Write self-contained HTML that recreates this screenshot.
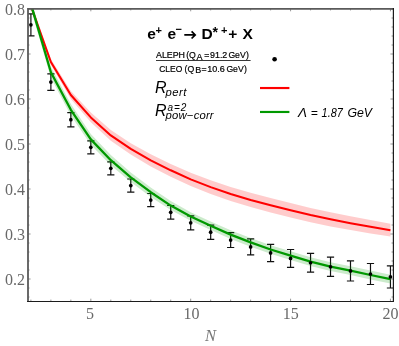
<!DOCTYPE html>
<html><head><meta charset="utf-8"><title>plot</title>
<style>html,body{margin:0;padding:0;background:#fff}svg{display:block;will-change:transform}</style>
</head><body>
<svg width="399" height="346" viewBox="0 0 399 346">
<rect width="399" height="346" fill="#fff"/>
<clipPath id="c"><rect x="28" y="9" width="365" height="292"/></clipPath>
<g clip-path="url(#c)"><path d="M30.90 13.80V35.80M27.30 13.80H34.50M27.30 35.80H34.50M50.88 73.90V90.30M47.27 73.90H54.48M47.27 90.30H54.48M70.85 112.60V126.80M67.25 112.60H74.45M67.25 126.80H74.45M90.83 140.80V153.80M87.23 140.80H94.42M87.23 153.80H94.42M110.80 161.80V174.80M107.20 161.80H114.40M107.20 174.80H114.40M130.78 179.00V192.20M127.18 179.00H134.38M127.18 192.20H134.38M150.75 193.50V206.70M147.15 193.50H154.35M147.15 206.70H154.35M170.73 205.50V219.10M167.13 205.50H174.33M167.13 219.10H174.33M190.70 215.80V229.80M187.10 215.80H194.30M187.10 229.80H194.30M210.68 225.05V239.35M207.08 225.05H214.28M207.08 239.35H214.28M230.65 232.70V247.50M227.05 232.70H234.25M227.05 247.50H234.25M250.63 238.90V254.90M247.03 238.90H254.23M247.03 254.90H254.23M270.60 244.30V261.60M267.00 244.30H274.20M267.00 261.60H274.20M290.57 249.50V267.30M286.97 249.50H294.18M286.97 267.30H294.18M310.55 253.40V272.10M306.95 253.40H314.15M306.95 272.10H314.15M330.52 257.20V276.40M326.92 257.20H334.12M326.92 276.40H334.12M350.50 260.80V281.00M346.90 260.80H354.10M346.90 281.00H354.10M370.48 263.50V284.50M366.88 263.50H374.08M366.88 284.50H374.08M390.45 265.80V288.00M386.85 265.80H394.05M386.85 288.00H394.05" stroke="#111" stroke-width="1.2" fill="none"/>
<polygon points="30.90,4.30 50.88,59.00 70.85,91.00 90.83,112.60 110.80,130.10 130.78,143.20 150.75,154.20 170.73,163.90 190.70,172.80 210.68,180.30 230.65,187.00 250.63,192.80 270.60,198.10 290.57,203.10 310.55,207.90 330.52,212.20 350.50,216.30 370.48,220.10 390.45,223.80 390.45,236.60 370.48,233.50 350.50,230.10 330.52,226.40 310.55,222.30 290.57,217.50 270.60,212.50 250.63,207.00 230.65,201.00 210.68,193.90 190.70,186.00 170.73,176.70 150.75,166.40 130.78,154.60 110.80,140.70 90.83,122.20 70.85,99.00 50.88,65.00 30.90,7.30" fill="#ff0000" fill-opacity="0.2"/>
<polyline points="30.90,5.80 50.88,62.00 70.85,95.00 90.83,117.40 110.80,135.40 130.78,148.90 150.75,160.30 170.73,170.30 190.70,179.40 210.68,187.10 230.65,194.00 250.63,199.90 270.60,205.30 290.57,210.30 310.55,215.10 330.52,219.30 350.50,223.20 370.48,226.80 390.45,230.20" fill="none" stroke="#ff0000" stroke-width="2.05" stroke-linejoin="round"/>
<polygon points="30.90,-1.00 50.88,66.70 70.85,104.00 90.83,134.10 110.80,155.10 130.78,172.50 150.75,187.50 170.73,201.10 190.70,212.20 210.68,221.50 230.65,230.30 250.63,238.00 270.60,245.15 290.57,251.25 310.55,257.25 330.52,262.30 350.50,266.25 370.48,270.60 390.45,274.80 390.45,283.60 370.48,279.40 350.50,274.95 330.52,270.90 310.55,265.95 290.57,259.95 270.60,253.85 250.63,246.80 230.65,238.90 210.68,230.10 190.70,220.80 170.73,210.10 150.75,196.90 130.78,182.10 110.80,165.30 90.83,144.70 70.85,115.60 50.88,77.70 30.90,9.00" fill="#009900" fill-opacity="0.2"/>
<polyline points="30.90,4.00 50.88,72.20 70.85,109.80 90.83,139.40 110.80,160.20 130.78,177.30 150.75,192.20 170.73,205.60 190.70,216.50 210.68,225.80 230.65,234.60 250.63,242.40 270.60,249.50 290.57,255.60 310.55,261.60 330.52,266.60 350.50,270.60 370.48,275.00 390.45,279.20" fill="none" stroke="#009900" stroke-width="2.3" stroke-linejoin="round"/>
<circle cx="30.90" cy="24.80" r="1.85" fill="#000"/>
<circle cx="50.88" cy="82.10" r="1.85" fill="#000"/>
<circle cx="70.85" cy="119.70" r="1.85" fill="#000"/>
<circle cx="90.83" cy="147.30" r="1.85" fill="#000"/>
<circle cx="110.80" cy="168.30" r="1.85" fill="#000"/>
<circle cx="130.78" cy="185.60" r="1.85" fill="#000"/>
<circle cx="150.75" cy="200.10" r="1.85" fill="#000"/>
<circle cx="170.73" cy="212.30" r="1.85" fill="#000"/>
<circle cx="190.70" cy="222.80" r="1.85" fill="#000"/>
<circle cx="210.68" cy="232.20" r="1.85" fill="#000"/>
<circle cx="230.65" cy="240.10" r="1.85" fill="#000"/>
<circle cx="250.63" cy="246.90" r="1.85" fill="#000"/>
<circle cx="270.60" cy="252.95" r="1.85" fill="#000"/>
<circle cx="290.57" cy="258.40" r="1.85" fill="#000"/>
<circle cx="310.55" cy="262.75" r="1.85" fill="#000"/>
<circle cx="330.52" cy="266.80" r="1.85" fill="#000"/>
<circle cx="350.50" cy="270.90" r="1.85" fill="#000"/>
<circle cx="370.48" cy="274.00" r="1.85" fill="#000"/>
<circle cx="390.45" cy="276.90" r="1.85" fill="#000"/></g>
<path d="M30.90 301.4v-1.8M30.90 9v1.4M50.88 301.4v-1.8M50.88 9v1.4M70.85 301.4v-1.8M70.85 9v1.4M90.83 301.4v-2.7M90.83 9v2.3000000000000003M110.80 301.4v-1.8M110.80 9v1.4M130.78 301.4v-1.8M130.78 9v1.4M150.75 301.4v-1.8M150.75 9v1.4M170.73 301.4v-1.8M170.73 9v1.4M190.70 301.4v-2.7M190.70 9v2.3000000000000003M210.68 301.4v-1.8M210.68 9v1.4M230.65 301.4v-1.8M230.65 9v1.4M250.63 301.4v-1.8M250.63 9v1.4M270.60 301.4v-1.8M270.60 9v1.4M290.57 301.4v-2.7M290.57 9v2.3000000000000003M310.55 301.4v-1.8M310.55 9v1.4M330.52 301.4v-1.8M330.52 9v1.4M350.50 301.4v-1.8M350.50 9v1.4M370.48 301.4v-1.8M370.48 9v1.4M390.45 301.4v-2.7M390.45 9v2.3000000000000003M28 297.00h1.5M393.4 297.00h-1.9M28 288.00h1.5M393.4 288.00h-1.9M28 279.00h2.6M393.4 279.00h-3.0M28 270.00h1.5M393.4 270.00h-1.9M28 261.00h1.5M393.4 261.00h-1.9M28 252.00h1.5M393.4 252.00h-1.9M28 243.00h1.5M393.4 243.00h-1.9M28 234.00h2.6M393.4 234.00h-3.0M28 225.00h1.5M393.4 225.00h-1.9M28 216.00h1.5M393.4 216.00h-1.9M28 207.00h1.5M393.4 207.00h-1.9M28 198.00h1.5M393.4 198.00h-1.9M28 189.00h2.6M393.4 189.00h-3.0M28 180.00h1.5M393.4 180.00h-1.9M28 171.00h1.5M393.4 171.00h-1.9M28 162.00h1.5M393.4 162.00h-1.9M28 153.00h1.5M393.4 153.00h-1.9M28 144.00h2.6M393.4 144.00h-3.0M28 135.00h1.5M393.4 135.00h-1.9M28 126.00h1.5M393.4 126.00h-1.9M28 117.00h1.5M393.4 117.00h-1.9M28 108.00h1.5M393.4 108.00h-1.9M28 99.00h2.6M393.4 99.00h-3.0M28 90.00h1.5M393.4 90.00h-1.9M28 81.00h1.5M393.4 81.00h-1.9M28 72.00h1.5M393.4 72.00h-1.9M28 63.00h1.5M393.4 63.00h-1.9M28 54.00h2.6M393.4 54.00h-3.0M28 45.00h1.5M393.4 45.00h-1.9M28 36.00h1.5M393.4 36.00h-1.9M28 27.00h1.5M393.4 27.00h-1.9M28 18.00h1.5M393.4 18.00h-1.9M28 9.00h2.6M393.4 9.00h-3.0" stroke="#777" stroke-width="0.75" fill="none"/>
<path d="M28 302V8.9H394" fill="none" stroke="#5a5a5a" stroke-width="1.8" stroke-linejoin="miter"/>
<path d="M27.1 301.5H393.4V8" fill="none" stroke="#1c1c1c" stroke-width="1.2" stroke-linejoin="miter"/>
<g font-family="'Liberation Serif', serif" font-size="16" fill="#686868"><text x="24.9" y="284.85" text-anchor="end">0.2</text>
<text x="24.9" y="239.85" text-anchor="end">0.3</text>
<text x="24.9" y="194.85" text-anchor="end">0.4</text>
<text x="24.9" y="149.85" text-anchor="end">0.5</text>
<text x="24.9" y="104.85" text-anchor="end">0.6</text>
<text x="24.9" y="59.85" text-anchor="end">0.7</text>
<text x="24.9" y="14.85" text-anchor="end">0.8</text>
<text x="90.1" y="318.7" text-anchor="middle">5</text>
<text x="191.6" y="318.7" text-anchor="middle">10</text>
<text x="290.7" y="318.7" text-anchor="middle">15</text>
<text x="390.6" y="318.7" text-anchor="middle">20</text>
<text x="210.6" y="341.3" text-anchor="middle" font-style="italic" font-size="16.5" fill="#777">N</text></g>
<g font-family="'Liberation Sans', sans-serif" fill="#000">
<g font-weight="bold" font-size="15.5">
<text x="147.2" y="38.7">e</text>
<text x="155.4" y="33.7" font-size="11">+</text>
<text x="167.6" y="38.7">e</text>
<text x="175.6" y="33.4" font-size="11">−</text>
<path d="M184.3 34.9H194.8M191.6 31.3L195.2 34.9L191.6 38.5" stroke="#000" stroke-width="1.7" fill="none" stroke-linejoin="miter"/>
<text x="201.4" y="38.7">D</text>
<text x="212.5" y="36.6" font-size="14">*</text>
<text x="221.0" y="33.6" font-size="11">+</text>
<text x="228.2" y="39.4">+</text>
<text x="242.4" y="38.7">X</text>
</g>
<g font-size="8.7" stroke="#000" stroke-width="0.2">
<text y="58.3"><tspan x="156.0" textLength="29" lengthAdjust="spacingAndGlyphs">ALEPH</tspan><tspan x="186.3">(</tspan><tspan x="189.1">Q</tspan><tspan x="204.3">=</tspan><tspan x="210.0" textLength="17.3" lengthAdjust="spacingAndGlyphs">91.2</tspan><tspan x="228.4" textLength="17.3" lengthAdjust="spacingAndGlyphs">GeV</tspan><tspan x="246.0">)</tspan></text>
<text x="196.6" y="60.0" font-size="9">A</text>
<text y="71.7"><tspan x="159.2" textLength="23.1" lengthAdjust="spacingAndGlyphs">CLEO</tspan><tspan x="184.6">(</tspan><tspan x="187.4">Q</tspan><tspan x="201.5">=</tspan><tspan x="207.2" textLength="17.5" lengthAdjust="spacingAndGlyphs">10.6</tspan><tspan x="226.4" textLength="17.3" lengthAdjust="spacingAndGlyphs">GeV</tspan><tspan x="243.9">)</tspan></text>
<text x="195.2" y="73.3" font-size="9">B</text>
</g>
<rect x="156" y="60.1" width="94.6" height="0.9" fill="#222"/>
<g font-style="italic">
<text x="155.0" y="93.1" font-size="16">R</text>
<text x="165.6" y="95.6" font-size="11.3" textLength="20.8">pert</text>
<text x="155.0" y="116.4" font-size="16">R</text>
<text x="167.6" y="110.7" font-size="10" textLength="18.6">a=2</text>
<text x="165.6" y="119.4" font-size="11.3" textLength="48">pow−corr</text>
<text y="117.4" font-size="12"><tspan x="298.0" textLength="9.0" lengthAdjust="spacingAndGlyphs">Λ</tspan><tspan x="310.8">=</tspan><tspan x="321.6" textLength="21.2" lengthAdjust="spacingAndGlyphs">1.87</tspan><tspan x="347.4" textLength="24.6" lengthAdjust="spacingAndGlyphs">GeV</tspan></text>
</g>
</g>
<circle cx="274.6" cy="59.2" r="2.3" fill="#000"/>
<rect x="260" y="86.95" width="29.4" height="2.15" fill="#ff0000"/>
<rect x="260" y="110.9" width="29.4" height="2.15" fill="#009900"/>
</svg>
</body></html>
